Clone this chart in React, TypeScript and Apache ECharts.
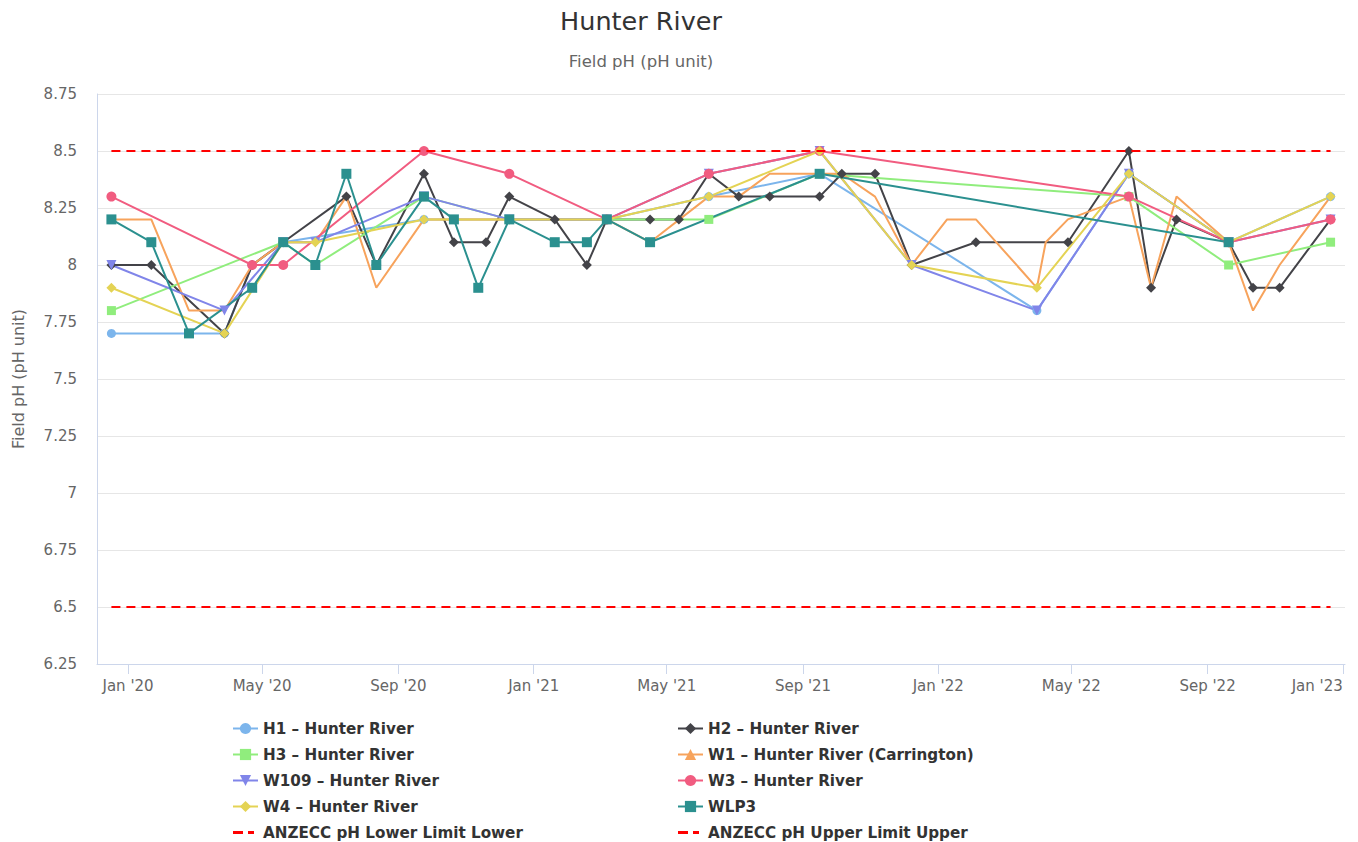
import React, { useEffect, useRef } from "react";
import * as echarts from "echarts";

// ---------- data ----------
const TITLE = "Hunter River";
const SUBTITLE = "Field pH (pH unit)";
const Y_NAME = "Field pH (pH unit)";

const TICK_DATES = ["2020-01-01", "2020-05-01", "2020-09-01", "2021-01-01", "2021-05-01", "2021-09-01", "2022-01-01", "2022-05-01", "2022-09-01", "2023-01-01"];
const TICK_LABELS = ["Jan '20", "May '20", "Sep '20", "Jan '21", "May '21", "Sep '21", "Jan '22", "May '22", "Sep '22", "Jan '23"];

const H1_DATES = ["2019-12-17", "2020-02-25", "2020-03-28", "2020-04-22", "2020-05-20", "2020-09-24", "2021-03-08", "2021-06-08", "2021-09-16", "2022-03-31", "2022-06-22", "2022-09-20", "2022-12-21"];
const H1_VALUES = [7.7, 7.7, 7.7, 8.0, 8.1, 8.2, 8.2, 8.3, 8.4, 7.8, 8.4, 8.1, 8.3];

const H2_DATES = ["2019-12-17", "2020-01-22", "2020-03-28", "2020-04-22", "2020-05-20", "2020-07-16", "2020-08-12", "2020-09-24", "2020-10-21", "2020-11-19", "2020-12-10", "2021-01-20", "2021-02-18", "2021-03-08", "2021-04-16", "2021-05-12", "2021-06-08", "2021-07-05", "2021-08-02", "2021-09-16", "2021-10-06", "2021-11-05", "2021-12-08", "2022-02-04", "2022-04-28", "2022-06-22", "2022-07-12", "2022-08-04", "2022-09-20", "2022-10-12", "2022-11-05", "2022-12-21"];
const H2_VALUES = [8.0, 8.0, 7.7, 8.0, 8.1, 8.3, 8.0, 8.4, 8.1, 8.1, 8.3, 8.2, 8.0, 8.2, 8.2, 8.2, 8.4, 8.3, 8.3, 8.3, 8.4, 8.4, 8.0, 8.1, 8.1, 8.5, 7.9, 8.2, 8.1, 7.9, 7.9, 8.2];

const H3_DATES = ["2019-12-17", "2020-05-20", "2020-06-18", "2020-09-24", "2020-12-10", "2021-03-08", "2021-06-08", "2021-09-16", "2022-06-22", "2022-09-20", "2022-12-21"];
const H3_VALUES = [7.8, 8.1, 8.0, 8.3, 8.2, 8.2, 8.2, 8.4, 8.3, 8.0, 8.1];

const W1_DATES = ["2019-12-17", "2020-01-22", "2020-02-25", "2020-03-28", "2020-04-22", "2020-05-20", "2020-06-18", "2020-07-16", "2020-08-12", "2020-09-24", "2020-12-10", "2021-03-08", "2021-04-16", "2021-06-08", "2021-07-05", "2021-08-02", "2021-09-16", "2021-10-06", "2021-11-05", "2021-12-08", "2022-01-09", "2022-02-04", "2022-03-31", "2022-04-08", "2022-04-28", "2022-06-22", "2022-07-12", "2022-08-04", "2022-09-20", "2022-10-12", "2022-11-05", "2022-12-21"];
const W1_VALUES = [8.2, 8.2, 7.8, 7.8, 8.0, 8.1, 8.1, 8.3, 7.9, 8.2, 8.2, 8.2, 8.1, 8.3, 8.3, 8.4, 8.4, 8.4, 8.3, 8.0, 8.2, 8.2, 7.9, 8.1, 8.2, 8.3, 7.9, 8.3, 8.1, 7.8, 8.0, 8.3];

const W109_DATES = ["2019-12-17", "2020-03-28", "2020-05-20", "2020-06-18", "2020-09-24", "2020-12-10", "2021-03-08", "2021-06-08", "2021-09-16", "2021-12-08", "2022-03-31", "2022-06-22", "2022-09-20", "2022-12-21"];
const W109_VALUES = [8.0, 7.8, 8.1, 8.1, 8.3, 8.2, 8.2, 8.4, 8.5, 8.0, 7.8, 8.4, 8.1, 8.2];

const W3_DATES = ["2019-12-17", "2020-04-22", "2020-05-20", "2020-09-24", "2020-12-10", "2021-03-08", "2021-06-08", "2021-09-16", "2022-06-22", "2022-09-20", "2022-12-21"];
const W3_VALUES = [8.3, 8.0, 8.0, 8.5, 8.4, 8.2, 8.4, 8.5, 8.3, 8.1, 8.2];

const W4_DATES = ["2019-12-17", "2020-03-28", "2020-05-20", "2020-06-18", "2020-09-24", "2020-12-10", "2021-03-08", "2021-06-08", "2021-09-16", "2021-12-08", "2022-03-31", "2022-06-22", "2022-09-20", "2022-12-21"];
const W4_VALUES = [7.9, 7.7, 8.1, 8.1, 8.2, 8.2, 8.2, 8.3, 8.5, 8.0, 7.9, 8.4, 8.1, 8.3];

const WLP3_DATES = ["2019-12-17", "2020-01-22", "2020-02-25", "2020-04-22", "2020-05-20", "2020-06-18", "2020-07-16", "2020-08-12", "2020-09-24", "2020-10-21", "2020-11-12", "2020-12-10", "2021-01-20", "2021-02-18", "2021-03-08", "2021-04-16", "2021-09-16", "2022-09-20"];
const WLP3_VALUES = [8.2, 8.1, 7.7, 7.9, 8.1, 8.0, 8.4, 8.0, 8.3, 8.2, 7.9, 8.2, 8.1, 8.1, 8.2, 8.1, 8.4, 8.1];

const LIMIT_DATES = ["2019-12-17", "2022-12-21"];
const LOWER_LIMIT_VALUES = [6.5, 6.5];
const UPPER_LIMIT_VALUES = [8.5, 8.5];

const X_MIN = "2019-12-04";
const X_MAX = "2023-01-03";
const Y_MIN = 6.25;
const Y_MAX = 8.75;
const Y_INTERVAL = 0.25;

// ---------- helpers ----------
function parseLocal(d: string): number {
  const [y, m, dd] = d.split("-").map(Number);
  return new Date(y, m - 1, dd).getTime();
}
function pairs(dates: string[], values: number[]) {
  return dates.map((d, i) => [parseLocal(d), values[i]]);
}

const FONT = "DejaVu Sans";
const TRI_DOWN = "path://M0,0L10,0L5,9Z";
const DASH_ICON = "path://M0,0h10v3h-10z M15,0h6v3h-6z M25,0L25,3";

export default function App() {
  const ref = useRef<HTMLDivElement>(null);

  useEffect(() => {
    if (!ref.current) return;
    const chart = echarts.init(ref.current, undefined, { renderer: "svg" });
    const tickTimes = TICK_DATES.map(parseLocal);

    const lineSeries = (
      name: string,
      dates: string[],
      values: number[],
      color: string,
      symbol: string,
      size: number,
      showSymbol = true
    ) => ({
      name,
      type: "line",
      data: pairs(dates, values),
      symbol,
      symbolSize: size,
      showSymbol,
      color,
      lineStyle: { width: 2, color },
      itemStyle: { color, borderWidth: 0 },
      emphasis: { disabled: true },
      z: 2,
    });

    const limitSeries = (name: string, values: number[]) => ({
      name,
      type: "line",
      data: pairs(LIMIT_DATES, values),
      symbol: "none",
      color: "#ff0000",
      itemStyle: { color: "#ff0000", borderWidth: 0 },
      lineStyle: { width: 2, color: "#ff0000", type: [9, 6] },
      emphasis: { disabled: true },
      z: 3,
    });

    const legendCommon = {
      orient: "vertical",
      top: 721,
      itemWidth: 25,
      itemHeight: 14,
      itemGap: 11,
      padding: 0,
      textStyle: { fontFamily: FONT, fontSize: 15.2, fontWeight: "bold", color: "#333" },
      selectedMode: false,
    };

    const dashItem = (name: string) => ({
      name,
      icon: DASH_ICON,
      itemStyle: { color: "#ff0000", borderWidth: 0 },
    });

    const option: any = {
      animation: false,
      backgroundColor: "#ffffff",
      textStyle: { fontFamily: FONT },
      title: [
        {
          text: TITLE,
          left: 636,
          top: 3,
          textAlign: "center",
          textStyle: { fontFamily: FONT, fontSize: 25.5, fontWeight: "normal", color: "#333" },
        },
        {
          text: SUBTITLE,
          left: 636,
          top: 48,
          textAlign: "center",
          textStyle: { fontFamily: FONT, fontSize: 16.5, fontWeight: "normal", color: "#666" },
        },
      ],
      legend: [
        {
          ...legendCommon,
          left: 232,
          data: [
            "H1 – Hunter River",
            "H3 – Hunter River",
            "W109 – Hunter River",
            "W4 – Hunter River",
            dashItem("ANZECC pH Lower Limit Lower"),
          ],
        },
        {
          ...legendCommon,
          left: 677,
          data: [
            "H2 – Hunter River",
            "W1 – Hunter River (Carrington)",
            "W3 – Hunter River",
            "WLP3",
            dashItem("ANZECC pH Upper Limit Upper"),
          ],
        },
      ],
      grid: { left: 97, right: 13, top: 94, bottom: 178, containLabel: false, outerBoundsMode: "none" },
      xAxis: {
        type: "value",
        min: parseLocal(X_MIN),
        max: parseLocal(X_MAX),
        axisLine: { show: true, lineStyle: { color: "#ccd6eb", width: 1 } },
        axisTick: { show: true, customValues: tickTimes, length: 10, lineStyle: { color: "#ccd6eb" } },
        splitLine: { show: false },
        axisLabel: {
          customValues: tickTimes,
          margin: 14,
          color: "#666",
          fontFamily: FONT,
          fontSize: 15,
          alignMaxLabel: "right",
          hideOverlap: false,
          formatter: (v: number) => {
            let best = 0;
            for (let i = 0; i < tickTimes.length; i++) {
              if (Math.abs(tickTimes[i] - v) < Math.abs(tickTimes[best] - v)) best = i;
            }
            return TICK_LABELS[best];
          },
        },
      },
      yAxis: {
        type: "value",
        min: Y_MIN,
        max: Y_MAX,
        interval: Y_INTERVAL,
        name: Y_NAME,
        nameLocation: "middle",
        nameGap: 71,
        nameTextStyle: { fontFamily: FONT, fontSize: 16, color: "#666" },
        axisLine: { show: true, lineStyle: { color: "#ccd6eb", width: 1 } },
        axisTick: { show: false },
        splitLine: { show: true, lineStyle: { color: "#e6e6e6", width: 1 } },
        axisLabel: {
          margin: 20,
          color: "#666",
          fontFamily: FONT,
          fontSize: 15,
          formatter: (v: number) => String(Number(v.toFixed(2))),
        },
      },
      series: [
        lineSeries("H1 – Hunter River", H1_DATES, H1_VALUES, "#7cb5ec", "circle", 9),
        lineSeries("H2 – Hunter River", H2_DATES, H2_VALUES, "#434348", "diamond", 10),
        lineSeries("H3 – Hunter River", H3_DATES, H3_VALUES, "#90ed7d", "rect", 9),
        lineSeries("W1 – Hunter River (Carrington)", W1_DATES, W1_VALUES, "#f7a35c", "triangle", 10, false),
        lineSeries("W109 – Hunter River", W109_DATES, W109_VALUES, "#8085e9", TRI_DOWN, 10),
        lineSeries("W3 – Hunter River", W3_DATES, W3_VALUES, "#f15c80", "circle", 10),
        lineSeries("W4 – Hunter River", W4_DATES, W4_VALUES, "#e4d354", "diamond", 10),
        lineSeries("WLP3", WLP3_DATES, WLP3_VALUES, "#2b908f", "rect", 10),
        limitSeries("ANZECC pH Lower Limit Lower", LOWER_LIMIT_VALUES),
        limitSeries("ANZECC pH Upper Limit Upper", UPPER_LIMIT_VALUES),
      ],
    };

    chart.setOption(option);
    return () => chart.dispose();
  }, []);

  return (
    <div
      ref={ref}
      style={{ position: "fixed", left: 0, top: 0, width: 1358, height: 842, background: "#fff" }}
    />
  );
}
